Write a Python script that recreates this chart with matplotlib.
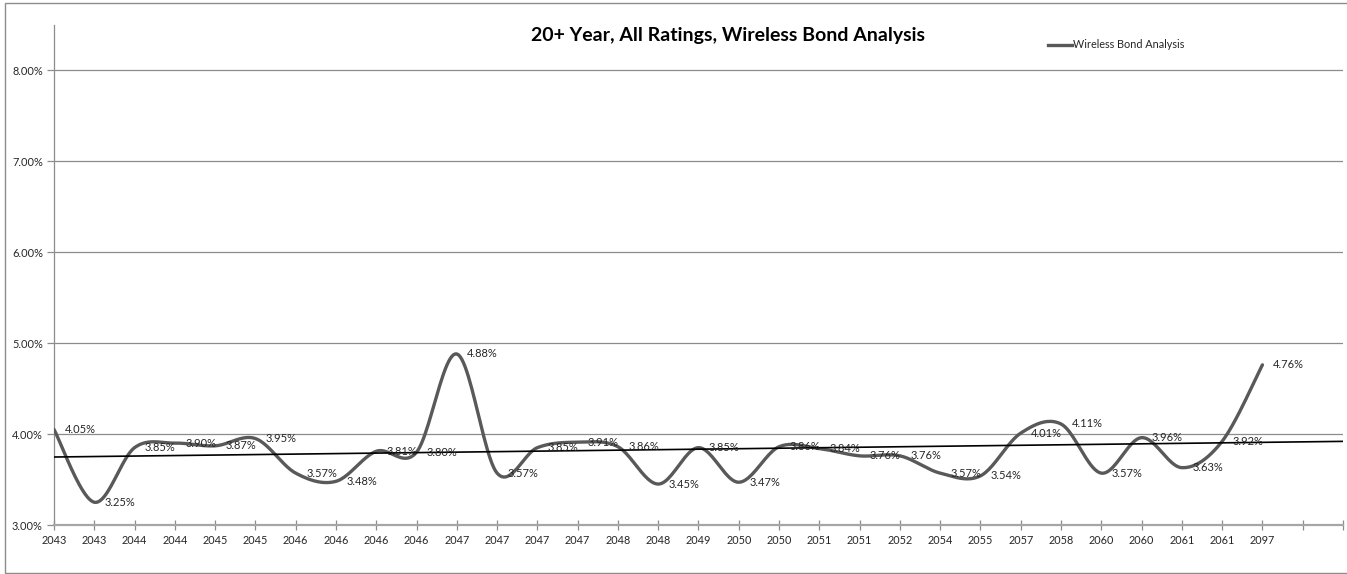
import numpy as np
import matplotlib
matplotlib.use("Agg")
import matplotlib.pyplot as plt
from matplotlib.ticker import FixedLocator, FuncFormatter

plt.rcParams['font.family'] = ['Lato', 'DejaVu Sans']

# Maturity years (category axis) and yields in percent
years = ["2043", "2043", "2044", "2044", "2045", "2045", "2046", "2046", "2046", "2046",
         "2047", "2047", "2047", "2047", "2048", "2048", "2049", "2050", "2050", "2051",
         "2051", "2052", "2054", "2055", "2057", "2058", "2060", "2060", "2061", "2061",
         "2097"]
yields = [4.05, 3.25, 3.85, 3.90, 3.87, 3.95, 3.57, 3.48, 3.81, 3.80,
          4.88, 3.57, 3.85, 3.91, 3.86, 3.45, 3.85, 3.47, 3.86, 3.84,
          3.76, 3.76, 3.57, 3.54, 4.01, 4.11, 3.57, 3.96, 3.63, 3.92,
          4.76]
extra_slots = 2          # empty category slots after the last bond (trend forecast)
y_ticks = [3.0, 4.0, 5.0, 6.0, 7.0, 8.0]
title = "20+ Year, All Ratings, Wireless Bond Analysis"
series_name = "Wireless Bond Analysis"

LINE = "#595959"
GRID = "#8c8c8c"
TEXT = "#262626"


def smooth_curve(x, y, steps=24):
    """Cubic Bezier smoothing through every point (spreadsheet-style)."""
    x = np.asarray(x, float)
    y = np.asarray(y, float)
    n = len(x)
    px, py = [], []
    for i in range(n - 1):
        x0, y0 = x[max(i - 1, 0)], y[max(i - 1, 0)]
        x1, y1 = x[i], y[i]
        x2, y2 = x[i + 1], y[i + 1]
        x3, y3 = x[min(i + 2, n - 1)], y[min(i + 2, n - 1)]
        c1x, c1y = x1 + (x2 - x0) / 6, y1 + (y2 - y0) / 6
        c2x, c2y = x2 - (x3 - x1) / 6, y2 - (y3 - y1) / 6
        t = np.linspace(0, 1, steps, endpoint=(i == n - 2))
        a, b, c, d = (1 - t) ** 3, 3 * (1 - t) ** 2 * t, 3 * (1 - t) * t ** 2, t ** 3
        px.append(a * x1 + b * c1x + c * c2x + d * x2)
        py.append(a * y1 + b * c1y + c * c2y + d * y2)
    return np.concatenate(px), np.concatenate(py)


W, H = 1347, 574
fig = plt.figure(figsize=(W / 100, H / 100), dpi=100)

# chart frame
fig.patches.append(plt.Rectangle((5 / W, 1.5 / H), 1.2, 1 - 4.5 / H, transform=fig.transFigure,
                                 fill=False, edgecolor="#8c8c8c", linewidth=1.0))

ax = fig.add_axes([54 / W, 1 - 525 / H, (1343 - 54) / W, 500 / H])

idx = np.arange(len(yields))
sx, sy = smooth_curve(idx, yields)
ax.plot(sx, sy, color=LINE, linewidth=2.4, solid_capstyle="round", zorder=3,
        label=series_name)

# linear trend, extended across the empty slots
n_total = len(yields) + extra_slots
coef = np.polyfit(idx, yields, 1)
tx = np.array([0, n_total - 1])
ax.plot(tx, np.polyval(coef, tx), color="black", linewidth=1.2, zorder=4)

for i, v in zip(idx, yields):
    ax.annotate(f"{v:.2f}%", (i, v), xytext=(7.5, 0), textcoords="offset points",
                ha="left", va="center", fontsize=8.0, color=TEXT, zorder=5)

ax.set_xlim(0, n_total - 1)
ax.set_ylim(3.0, 8.495)
ax.set_xticks(np.arange(n_total))
ax.set_xticklabels(years + [""] * extra_slots)
ax.yaxis.set_major_locator(FixedLocator(y_ticks))
ax.yaxis.set_major_formatter(FuncFormatter(lambda v, p: f"{v:.2f}%"))

ax.grid(axis="y", color=GRID, linewidth=0.9)
ax.set_axisbelow(True)
for s in ("top", "right"):
    ax.spines[s].set_visible(False)
ax.spines["left"].set_color(GRID)
ax.spines["bottom"].set_color("#a6a6a6")
ax.spines["bottom"].set_linewidth(1.6)
ax.spines["left"].set_linewidth(0.9)
ax.tick_params(axis="x", direction="inout", length=7, width=0.9, color=GRID,
               labelsize=7.8, pad=4, labelcolor=TEXT)
ax.tick_params(axis="y", direction="out", length=5, width=0.9, color=GRID,
               labelsize=7.9, pad=3, labelcolor=TEXT)

fig.text(728 / W, 1 - 35 / H, title, ha="center", va="center", fontsize=14.0,
         fontweight="bold", color="black")

# legend entry
fig.add_artist(plt.Line2D([1048 / W, 1072 / W], [1 - 45 / H, 1 - 45 / H], color=LINE,
                          linewidth=2.4, transform=fig.transFigure))
fig.text(1073 / W, 1 - 45 / H, series_name, ha="left", va="center", fontsize=7.8,
         color=TEXT)

fig.savefig("out.png", dpi=100)
